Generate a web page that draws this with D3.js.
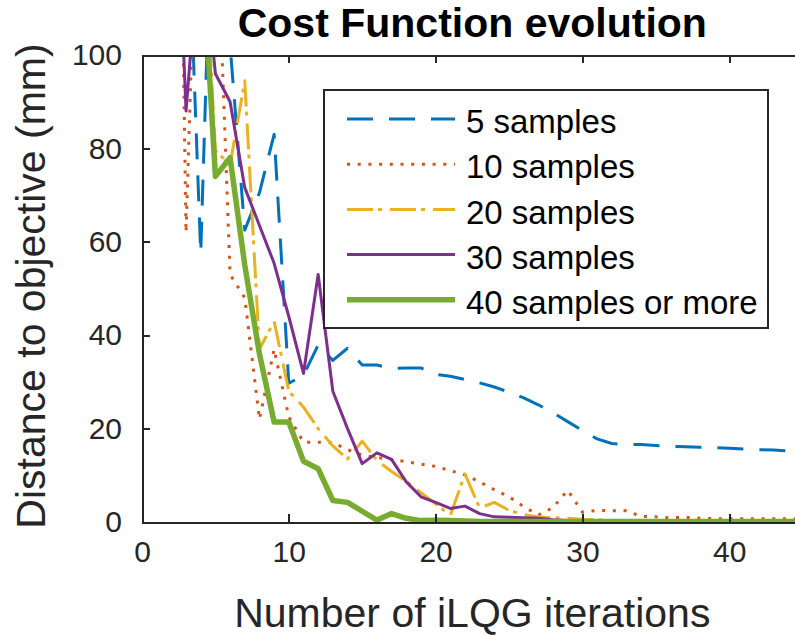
<!DOCTYPE html>
<html>
<head>
<meta charset="utf-8">
<script src="https://cdn.jsdelivr.net/npm/d3@7"></script>
<style>
  body { margin: 0; background: #fff; }
  text { font-family: "Liberation Sans", Arial, Helvetica, sans-serif; fill: #262626; }
</style>
</head>
<body>
<script>

// iLQG iteration number for every value below
var iterations = [2, 3, 4, 5, 6, 7, 8, 9, 10, 11, 12, 13, 14, 15, 16, 17, 18, 19, 20, 21, 22, 23,
                  24, 25, 26, 27, 28, 29, 30, 31, 32, 33, 34, 35, 36, 37, 38, 39, 40, 41, 42, 43, 44, 45];

// distance to objective (mm) (values > 100 are clipped)
var samples5  = [200, 142, 57.5, 160, 102, 62.5, 70.5, 83, 29.7, 31.4, 37.9, 34.6, 37.2, 33.6, 33.6, 32.9, 33.0, 33.0, 31.6, 31.2, 30.5, 29.8,
                 28.9, 27.8, 26.6, 25.1, 23.4, 21.5, 19.6, 17.8, 16.8, 16.6, 16.6, 16.4, 16.2, 16.1, 16.0, 15.9, 15.8, 15.6, 15.5, 15.4, 15.2, 15.1];
var samples10 = [270, 62, 165, 139, 53, 48, 22, 37, 22.5, 17.1, 17.1, 17, 15.5, 14.3, 13.8, 13.4, 12.9, 12.4, 11.9, 11.0, 10.1, 8.6,
                 6.9, 5.4, 3.3, 1.5, 3.1, 6.8, 2.1, 2.5, 2.4, 2.4, 1.2, 1.1, 0.9, 1.0, 0.8, 0.7, 0.7, 0.7, 0.7, 0.7, 0.7, 0.7];
var samples20 = [250, 200, 140, 79.5, 76.5, 94.5, 37, 43, 28, 24.6, 20, 16.3, 13.5, 17.3, 13.2, 10.8, 8.7, 6.3, 3.9, 1.4, 10.3, 3,
                 4.2, 2.5, 1.6, 1.1, 0.9, 0.8, 0.6, 0.5, 0.3, 0.3, 0.3, 0.3, 0.3, 0.3, 0.3, 0.3, 0.3, 0.3, 0.3, 0.3, 0.3, 0.3];
var samples30 = [165, 88, 128, 96, 90, 71.6, 63.5, 55.4, 44, 31.8, 53, 28, 20, 12.5, 14.8, 13.4, 8.6, 5.4, 4.2, 2.9, 3.4, 1.8,
                 1.1, 1.0, 0.9, 0.8, 0.5, 0.3, 0.2, 0.2, 0.2, 0.2, 0.2, 0.2, 0.2, 0.2, 0.2, 0.2, 0.2, 0.2, 0.2, 0.2, 0.2, 0.2];
var samples40 = [200, 160, 128, 74, 78, 55, 36, 21.4, 21.4, 13, 11.4, 4.6, 4.2, 2.3, 0.4, 1.8, 0.8, 0.3, 0.4, 0.3, 0.2, 0.1,
                 0.1, 0.1, 0.1, 0.1, 0.1, 0.1, 0.1, 0.1, 0.1, 0.1, 0.1, 0.1, 0.1, 0.1, 0.1, 0.1, 0.1, 0.1, 0.1, 0.1, 0.1, 0.1];

var seriesNames = ["5 samples", "10 samples", "20 samples", "30 samples", "40 samples or more"];
var xTicks = [0, 10, 20, 30, 40];
var yTicks = [0, 20, 40, 60, 80, 100];

var def_width = 795;
var def_height = 635;

var styles = [
  {color: "#0072BD", width: 3,   dash: "26,16"},
  {color: "#D95319", width: 3,   dash: "3,7.7"},
  {color: "#EDB120", width: 3,   dash: "26,5,4,8"},
  {color: "#7E2F8E", width: 3,   dash: null},
  {color: "#77AC30", width: 5.5, dash: null}
];

var series = [samples5, samples10, samples20, samples30, samples40].map(function (vals, k) {
  return {name: seriesNames[k], style: styles[k],
          values: vals.map(function (v, i) { return {it: iterations[i], d: v}; })};
});

var svg = d3.select("body").append("svg").attr("width", def_width).attr("height", def_height);

var plot = {left: 142, right: 802.6, top: 55, bottom: 522};

var x = d3.scaleLinear().domain([0, 45]).range([plot.left, plot.right]),
    y = d3.scaleLinear().domain([0, 100]).range([plot.bottom, plot.top]);

svg.append("clipPath").attr("id", "clip")
  .append("rect")
    .attr("x", plot.left).attr("y", plot.top)
    .attr("width", plot.right - plot.left).attr("height", plot.bottom - plot.top);

// lines
var line = d3.line()
  .x(function (p) { return x(p.it); })
  .y(function (p) { return y(p.d); });

svg.append("g").attr("clip-path", "url(#clip)")
  .selectAll("path")
  .data(series)
  .enter().append("path")
    .attr("d", function (s) { return line(s.values); })
    .attr("fill", "none")
    .attr("stroke", function (s) { return s.style.color; })
    .attr("stroke-width", function (s) { return s.style.width; })
    .attr("stroke-dasharray", function (s) { return s.style.dash; })
    .attr("stroke-linejoin", "round");

// axes (MATLAB style box, ticks inside)
function styleAxis(g) {
  g.selectAll("path, line").attr("stroke", "#262626").attr("stroke-width", 2)
    .attr("shape-rendering", "crispEdges");
  g.selectAll("text").attr("font-size", "30px").attr("fill", "#262626")
    .attr("font-family", "'Liberation Sans', Arial, Helvetica, sans-serif");
}

svg.append("g")
  .attr("transform", "translate(0," + plot.bottom + ")")
  .call(d3.axisBottom(x).tickValues(xTicks).tickSizeInner(-8).tickSizeOuter(0).tickPadding(19))
  .call(styleAxis);

svg.append("g")
  .attr("transform", "translate(0," + plot.top + ")")
  .call(d3.axisTop(x).tickValues(xTicks).tickSizeInner(-8).tickSizeOuter(0).tickFormat(""))
  .call(styleAxis);

svg.append("g")
  .attr("transform", "translate(" + plot.left + ",0)")
  .call(d3.axisLeft(y).tickValues(yTicks).tickSizeInner(-8).tickSizeOuter(0).tickPadding(20))
  .call(styleAxis);

svg.append("g")
  .attr("transform", "translate(" + plot.right + ",0)")
  .call(d3.axisRight(y).tickValues(yTicks).tickSizeInner(-8).tickSizeOuter(0).tickFormat(""))
  .call(styleAxis);

// title and labels
svg.append("text")
  .attr("x", (plot.left + plot.right) / 2)
  .attr("y", 37)
  .attr("text-anchor", "middle")
  .attr("font-size", "41px")
  .attr("font-weight", "bold")
  .style("fill", "#000")
  .text("Cost Function evolution");

svg.append("text")
  .attr("x", (plot.left + plot.right) / 2)
  .attr("y", 627)
  .attr("text-anchor", "middle")
  .attr("font-size", "41px")
  .text("Number of iLQG iterations");

svg.append("text")
  .attr("transform", "translate(45," + 286 + ") rotate(-90)")
  .attr("text-anchor", "middle")
  .attr("font-size", "41px")
  .text("Distance to objective (mm)");

// legend
var legend = svg.append("g");
legend.append("rect")
  .attr("x", 324).attr("y", 90)
  .attr("width", 444).attr("height", 238)
  .attr("fill", "#fff")
  .attr("stroke", "#262626")
  .attr("stroke-width", 2)
  .attr("shape-rendering", "crispEdges");

var rows = legend.selectAll(".entry")
  .data(series)
  .enter().append("g")
    .attr("class", "entry")
    .attr("transform", function (s, i) { return "translate(0," + (119 + i * 45.2) + ")"; });

rows.append("line")
  .attr("x1", 347).attr("x2", 455)
  .attr("stroke", function (s) { return s.style.color; })
  .attr("stroke-width", function (s) { return s.style.width; })
  .attr("stroke-dasharray", function (s) { return s.style.dash; });

rows.append("text")
  .attr("x", 466)
  .attr("dy", "0.43em")
  .attr("font-size", "33px")
  .style("fill", "#000")
  .text(function (s) { return s.name; });

</script>
</body>
</html>
